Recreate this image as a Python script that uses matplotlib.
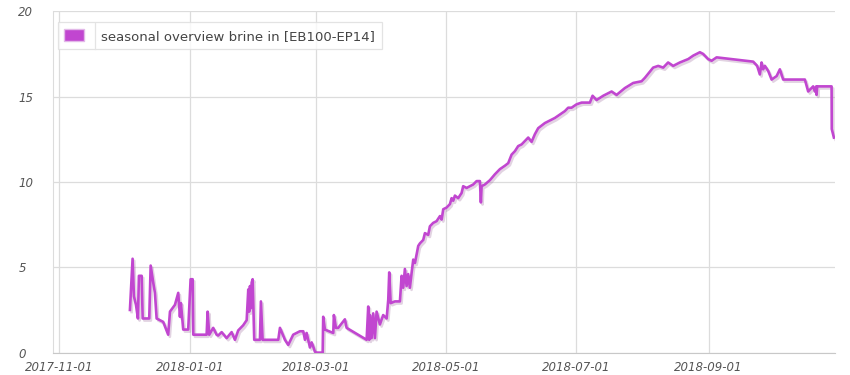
import matplotlib
matplotlib.use("Agg")
import matplotlib.pyplot as plt
import matplotlib.patheffects as pe
from matplotlib.patches import Patch
from matplotlib.lines import Line2D
import pandas as pd

# seasonal overview brine in [EB100-EP14]
dates = [
    "2017-12-04 00:00", "2017-12-05 06:00", "2017-12-05 21:00", "2017-12-06 20:00",
    "2017-12-07 18:00", "2017-12-08 05:00", "2017-12-09 12:00", "2017-12-09 23:00",
    "2017-12-10 13:00", "2017-12-13 01:00", "2017-12-13 17:00", "2017-12-14 22:00",
    "2017-12-15 17:00", "2017-12-16 12:00", "2017-12-19 14:00", "2017-12-21 22:00",
    "2017-12-22 18:00", "2017-12-25 02:00", "2017-12-26 15:00", "2017-12-27 10:00",
    "2017-12-27 21:00", "2017-12-28 23:00", "2017-12-31 07:00", "2018-01-01 10:00",
    "2018-01-02 09:00", "2018-01-02 16:00", "2018-01-08 22:00", "2018-01-09 09:00",
    "2018-01-10 03:00", "2018-01-12 00:00", "2018-01-13 14:00",
    "2018-01-14 08:00", "2018-01-15 23:00", "2018-01-18 07:00", "2018-01-20 15:00",
    "2018-01-22 04:00", "2018-01-23 17:00", "2018-01-26 01:00", "2018-01-27 16:00",
    "2018-01-28 10:00", "2018-01-28 20:00", "2018-01-29 05:00", "2018-01-29 14:00",
    "2018-01-30 00:00", "2018-01-30 11:00", "2018-01-31 05:00", "2018-02-02 21:00",
    "2018-02-03 08:00", "2018-02-04 03:00", "2018-02-11 11:00", "2018-02-12 06:00",
    "2018-02-14 14:00", "2018-02-16 03:00", "2018-02-18 11:00", "2018-02-21 14:00",
    "2018-02-23 04:00", "2018-02-23 23:00", "2018-02-24 18:00", "2018-02-26 07:00",
    "2018-02-27 02:00", "2018-02-27 20:00", "2018-02-28 15:00", "2018-03-01 10:00",
    "2018-03-04 06:00",
    "2018-03-04 12:00", "2018-03-05 07:00", "2018-03-09 05:00", "2018-03-09 12:00",
    "2018-03-10 11:00", "2018-03-11 13:00", "2018-03-14 16:00", "2018-03-15 11:00",
    "2018-03-24 20:00", "2018-03-25 14:00", "2018-03-26 01:00", "2018-03-26 09:00",
    "2018-03-27 04:00", "2018-03-27 22:00", "2018-03-28 17:00", "2018-03-29 12:00",
    "2018-03-31 01:00", "2018-04-01 14:00", "2018-04-03 05:00", "2018-04-03 23:00",
    "2018-04-04 10:00", "2018-04-05 02:00", "2018-04-07 02:00", "2018-04-09 10:00",
    "2018-04-10 05:00", "2018-04-10 23:00", "2018-04-11 18:00", "2018-04-12 13:00",
    "2018-04-13 07:00", "2018-04-14 02:00", "2018-04-14 22:00", "2018-04-15 16:00",
    "2018-04-16 11:00", "2018-04-18 00:00", "2018-04-18 19:00", "2018-04-20 08:00",
    "2018-04-21 03:00", "2018-04-22 16:00", "2018-04-23 11:00", "2018-04-25 00:00",
    "2018-04-26 14:00", "2018-04-28 04:00", "2018-04-28 23:00", "2018-04-29 17:00",
    "2018-05-01 07:00", "2018-05-02 20:00", "2018-05-03 15:00", "2018-05-04 09:00",
    "2018-05-05 04:00", "2018-05-06 17:00", "2018-05-08 07:00", "2018-05-09 01:00",
    "2018-05-10 16:00", "2018-05-12 05:00", "2018-05-13 18:00", "2018-05-15 08:00",
    "2018-05-16 21:00", "2018-05-17 08:00", "2018-05-17 16:00", "2018-05-19 05:00",
    "2018-05-21 13:00", "2018-05-23 22:00", "2018-05-26 06:00",
    "2018-05-28 14:00", "2018-05-30 03:00", "2018-05-31 17:00", "2018-06-02 06:00",
    "2018-06-03 19:00", "2018-06-05 10:00", "2018-06-07 18:00", "2018-06-08 12:00",
    "2018-06-10 02:00", "2018-06-11 15:00", "2018-06-13 04:00", "2018-06-14 18:00",
    "2018-06-16 07:00", "2018-06-18 16:00", "2018-06-21 00:00", "2018-06-23 08:00",
    "2018-06-25 16:00", "2018-06-27 05:00", "2018-06-28 19:00", "2018-07-01 04:00",
    "2018-07-03 12:00", "2018-07-07 09:00", "2018-07-08 15:00", "2018-07-10 12:00",
    "2018-07-13 15:00", "2018-07-17 13:00", "2018-07-19 21:00", "2018-07-23 18:00",
    "2018-07-27 16:00", "2018-07-31 14:00", "2018-08-02 03:00", "2018-08-06 00:00",
    "2018-08-08 09:00", "2018-08-10 17:00", "2018-08-13 00:00", "2018-08-15 09:00",
    "2018-08-18 12:00", "2018-08-22 10:00", "2018-08-24 18:00", "2018-08-27 21:00",
    "2018-08-29 10:00", "2018-08-31 18:00", "2018-09-02 09:00", "2018-09-04 17:00",
    "2018-09-21 20:00", "2018-09-23 17:00", "2018-09-24 23:00", "2018-09-25 18:00",
    "2018-09-26 12:00", "2018-09-27 08:00", "2018-09-28 21:00", "2018-09-30 11:00",
    "2018-10-02 19:00", "2018-10-04 08:00", "2018-10-05 21:00", "2018-10-16 01:00",
    "2018-10-17 14:00", "2018-10-18 09:00", "2018-10-19 22:00", "2018-10-20 17:00",
    "2018-10-21 08:00", "2018-10-21 12:00", "2018-10-21 19:00", "2018-10-28 13:00",
    "2018-10-28 15:00", "2018-10-29 15:00",
]
values = [
    2.5, 5.5, 3.3, 2.8, 2.0, 4.5, 4.5, 2.0,
    2.0, 2.0, 5.1, 4.1, 3.5, 2.0, 1.8, 1.05,
    2.4, 2.8, 3.5, 2.1, 2.9, 1.35, 1.35, 4.3,
    4.3, 1.05, 1.05, 2.4, 1.05, 1.45, 1.05,
    1.0, 1.2, 0.85, 1.2, 0.75, 1.3, 1.6, 1.9,
    3.7, 2.4, 3.9, 2.6, 4.1, 4.3, 0.75, 0.75,
    3.0, 0.75, 0.75, 1.45, 0.75, 0.45, 1.05, 1.25,
    1.25, 0.75, 1.15, 0.3, 0.6, 0.35, 0.05, 0.0,
    0.0,
    2.1, 1.35, 1.15, 2.2, 1.45, 1.45, 1.95, 1.45,
    0.75, 2.7, 0.75, 2.2, 0.85, 2.3, 0.85, 2.4,
    1.65, 2.2, 2.0, 3.1, 4.7, 2.9, 3.0, 3.0,
    4.5, 3.8, 4.9, 3.9, 4.6, 3.8, 4.7, 5.45,
    5.25, 6.25, 6.4, 6.6, 7.0, 6.9, 7.4, 7.6,
    7.7, 8.0, 7.8, 8.4, 8.5, 8.7, 9.05, 8.9,
    9.2, 9.05, 9.35, 9.75, 9.65, 9.75, 9.85, 10.05,
    10.05, 8.8, 9.75, 9.85, 10.1, 10.45, 10.75,
    10.95, 11.1, 11.6, 11.8, 12.1, 12.2, 12.5, 12.6,
    12.35, 12.8, 13.15, 13.3, 13.45, 13.6, 13.75, 13.95,
    14.15, 14.35, 14.35, 14.55, 14.65, 14.65, 15.05, 14.8,
    15.05, 15.3, 15.1, 15.5, 15.8, 15.9, 16.1, 16.7,
    16.8, 16.7, 17.0, 16.8, 17.0, 17.2, 17.4, 17.6,
    17.5, 17.2, 17.1, 17.3, 17.05, 16.8, 16.3, 17.0,
    16.6, 16.8, 16.5, 16.0, 16.2, 16.6, 16.0, 16.0,
    15.3, 15.4, 15.6, 15.3, 15.6, 15.1, 15.6, 15.6,
    13.1, 12.6,
]
series_name = "seasonal overview brine in [EB100-EP14]"
x_ticks = ["2017-11-01", "2018-01-01", "2018-03-01", "2018-05-01", "2018-07-01", "2018-09-01"]
y_ticks = [0, 5, 10, 15, 20]

line_color = "#c146d0"
grid_color = "#dcdcdc"
label_color = "#555555"

x = pd.to_datetime(dates)
xt = pd.to_datetime(x_ticks)

fig = plt.figure(figsize=(8.5, 3.75), dpi=100)
ax = fig.add_axes([0.0624, 0.0597, 0.9196, 0.9102])

ax.plot(x, values, color=line_color, lw=1.9, solid_joinstyle="round",
        path_effects=[pe.SimpleLineShadow(offset=(1.2, -1.5), shadow_color="#a070a0", alpha=0.3),
                      pe.Normal()], zorder=3)

ax.set_xlim(pd.Timestamp("2017-10-29"), pd.Timestamp("2018-10-30"))
ax.set_ylim(0, 20)
ax.set_xticks(xt)
ax.set_xticklabels(x_ticks)
ax.set_yticks(y_ticks)
ax.grid(True, color=grid_color, lw=0.9, zorder=0)
ax.set_axisbelow(True)

for s in ["top", "right"]:
    ax.spines[s].set_visible(False)
ax.spines["left"].set_color(grid_color)
ax.spines["bottom"].set_color("#c8c8c8")

ax.tick_params(axis="both", length=0, labelsize=8.5, labelcolor=label_color)
ax.tick_params(axis="x", pad=6)
ax.tick_params(axis="y", pad=25)
for lab in ax.get_xticklabels() + ax.get_yticklabels():
    lab.set_fontstyle("italic")
for lab in ax.get_yticklabels():
    lab.set_ha("left")

handle = Patch(facecolor=line_color, edgecolor="#e2b8e8", lw=1.0)
leg = ax.legend([handle], [series_name], loc="upper left", bbox_to_anchor=(0.006, 0.968),
                frameon=True, fancybox=False, fontsize=9.5, handlelength=1.5,
                handleheight=1.1, handletextpad=1.3, borderpad=0.5, borderaxespad=0)
leg.get_frame().set_edgecolor("#dddddd")
leg.get_frame().set_linewidth(0.9)
for t in leg.get_texts():
    t.set_color("#444444")

# thin divider between the swatch and the label inside the legend box
fig.add_artist(Line2D([95 / 850, 95 / 850], [1 - 23 / 375, 1 - 49 / 375],
                      color="#e4e4e4", lw=0.9))

fig.savefig("out.png", dpi=100, facecolor="white")
